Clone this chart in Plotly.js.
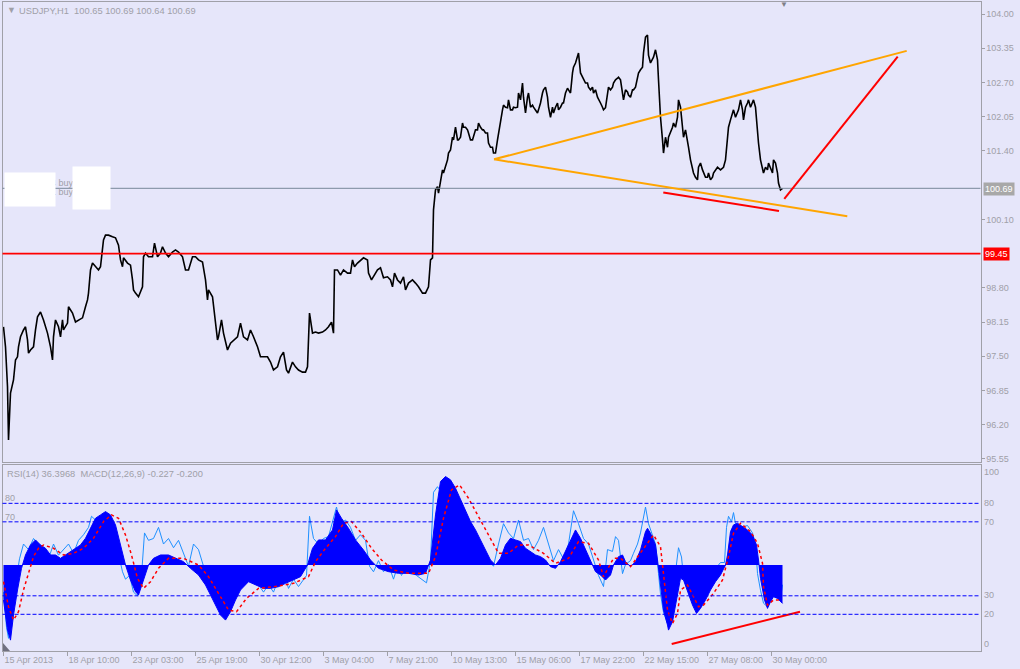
<!DOCTYPE html>
<html><head><meta charset="utf-8">
<script src="https://cdn.plot.ly/plotly-3.0.1.min.js"></script>
<style>html,body{margin:0;padding:0;background:#E6E6FA;}#chart{width:1020px;height:669px;}</style>
</head><body><div id="chart"></div>
<script>
// ---- price (close) series, bar index from first visible bar ----
const priceBars = [0,2,4,5,7,9,10,12,14,15,17,20,22,24,25,27,30,32,34,37,40,44,47,49,50,52,55,57,59,60,64,65,69,72,75,79,82,84,85,87,89,92,95,97,99,100,102,105,109,112,115,117,119,120,124,127,129,130,132,135,139,140,142,145,149,151,154,157,159,162,165,169,172,175,179,182,185,189,192,195,199,202,204,205,209,212,214,215,218,220,224,227,230,234,237,240,244,247,250,254,257,260,264,267,270,274,277,280,283,285,289,292,295,299,302,304,306,309,312,315,319,322,325,328,330,331,334,337,340,344,347,349,351,354,357,360,364,365,368,370,374,377,380,384,387,389,391,394,397,400,402,405,409,412,415,419,422,425,427,429,430,432,434,435,437,439,440,442,444,445,447,449,450,452,454,455,457,459,460,462,464,465,467,469,470,472,474,475,477,479,480,482,484,485,487,489,490,492,494,495,497,499,500,502,504,505,507,509,510,512,514,515,517,519,520,522,524,525,527,529,530,532,534,535,537,539,540,542,544,545,547,549,550,552,554,555,557,559,560,562,564,565,567,569,570,572,574,575,577,579,580,582,584,585,587,589,590,592,594,595,597,599,600,602,604,605,607,609,610,612,614,615,617,619,620,622,624,625,627,629,630,632,634,635,637,639,640,642,644,645,647,649,650,652,654,655,657,659,660,662,664,665,667,669,670,672,674,675,677,679,680,682,684,685,687,689,690,692,694,695,697,699,700,702,704,705,707,709,710,714,717,720,722,724,725,727,729,730,732,734,735,737,739,740,742,744,745,747,749,750,752,754,755,757,759,760,762,764,765,767,769,770,772,774,775,777,779];
const priceClose = [98.06,97.68,96.92,95.91,96.80,96.99,97.05,97.43,97.49,97.68,97.87,98.00,98.06,97.81,97.56,97.62,97.68,98.00,98.25,98.34,98.19,97.94,97.68,97.43,97.87,98.19,98.06,97.87,98.19,98.00,98.13,98.44,98.32,98.15,98.19,98.23,98.44,98.57,98.70,99.14,99.27,99.20,99.14,99.20,99.52,99.71,99.80,99.80,99.77,99.75,99.61,99.33,99.20,99.37,99.27,99.23,98.95,98.76,98.70,98.63,98.82,99.39,99.46,99.39,99.39,99.65,99.39,99.46,99.58,99.46,99.39,99.48,99.52,99.48,99.39,99.14,99.14,99.39,99.39,99.33,99.29,98.95,98.57,98.76,98.63,98.19,97.81,97.87,98.19,97.94,97.62,97.75,97.81,97.87,98.13,97.87,97.81,98.00,97.87,97.68,97.49,97.49,97.49,97.39,97.24,97.30,97.49,97.58,97.24,97.18,97.39,97.30,97.24,97.20,97.20,97.30,98.32,97.94,97.96,97.94,97.96,98.00,98.06,98.15,97.94,99.14,99.14,99.04,99.14,99.08,99.08,99.33,99.20,99.27,99.33,99.37,99.33,99.08,98.95,99.01,99.14,99.18,98.99,99.01,98.95,98.82,99.08,98.95,98.89,99.01,98.76,98.89,98.95,98.89,98.82,98.70,98.70,98.82,99.33,99.37,100.28,100.66,100.72,100.60,100.85,101.04,100.98,101.09,101.23,101.36,101.42,101.66,101.61,101.85,101.61,101.61,101.66,101.93,101.85,101.85,101.80,101.74,101.61,101.61,101.66,101.80,101.80,101.93,101.85,101.80,101.80,101.74,101.74,101.55,101.47,101.47,101.36,101.36,101.61,101.74,101.93,102.18,102.27,102.23,102.22,102.37,102.18,102.18,102.23,102.22,102.23,102.50,102.37,102.69,102.42,102.12,102.42,102.50,102.23,102.27,102.23,102.18,102.12,102.18,102.31,102.50,102.56,102.61,102.42,102.23,102.04,102.23,102.12,102.23,102.31,102.18,102.23,102.31,102.31,102.50,102.59,102.56,102.50,102.88,102.99,103.07,103.18,103.26,102.88,102.80,102.75,102.69,102.69,102.61,102.56,102.61,102.50,102.56,102.42,102.37,102.31,102.23,102.18,102.22,102.50,102.61,102.56,102.61,102.69,102.75,102.78,102.80,102.75,102.42,102.37,102.56,102.52,102.46,102.42,102.56,102.56,102.61,102.80,102.88,102.94,102.99,103.26,103.56,103.60,103.22,103.07,103.13,103.18,103.32,103.13,102.75,102.04,101.61,101.36,101.66,101.47,101.66,101.74,101.85,101.93,101.85,102.04,102.37,102.23,101.74,101.66,101.80,101.61,101.47,101.23,101.09,100.98,100.90,100.85,101.09,101.17,101.04,100.98,100.90,100.90,100.98,100.85,100.90,100.98,101.09,101.04,101.09,101.23,101.74,101.85,101.99,102.12,102.18,102.04,102.12,102.18,102.37,102.18,101.99,102.23,102.31,102.37,102.23,102.31,102.37,102.23,101.74,101.55,101.23,101.09,100.98,101.09,101.04,101.17,101.09,100.98,101.23,101.17,100.98,100.79,100.66,100.69];

// ---- MACD(12,26,9) histogram ----
const macdBars = [0,4,7,10,14,18,22,27,32,37,42,47,52,57,62,67,72,77,82,87,92,97,102,107,112,117,122,127,132,135,140,145,150,157,165,172,180,187,195,202,207,212,217,222,227,232,237,245,252,260,267,275,282,290,297,304,309,315,322,329,333,338,345,352,360,367,375,385,395,405,415,422,427,432,437,442,447,452,457,462,467,472,477,482,487,492,497,502,507,512,517,522,527,532,537,542,547,552,557,562,567,572,577,582,587,592,597,602,607,610,615,619,622,627,632,637,642,644,647,652,654,657,660,664,665,669,673,677,680,684,689,693,697,702,707,712,717,722,724,727,730,734,739,744,749,753,755,757,761,764,767,770,774,777,779];
const macdHist = [-0.21,-0.39,-0.45,-0.30,-0.15,-0.02,0.06,0.12,0.15,0.12,0.10,0.06,0.06,0.04,0.06,0.08,0.10,0.12,0.16,0.22,0.28,0.30,0.32,0.30,0.24,0.12,0.00,-0.09,-0.16,-0.18,-0.09,0.00,0.04,0.06,0.06,0.04,0.02,-0.02,-0.06,-0.12,-0.18,-0.24,-0.30,-0.33,-0.28,-0.21,-0.15,-0.10,-0.12,-0.14,-0.14,-0.13,-0.11,-0.09,-0.07,0.00,0.10,0.15,0.15,0.21,0.33,0.28,0.22,0.15,0.09,0.03,-0.02,-0.04,-0.05,-0.05,-0.06,-0.05,0.03,0.30,0.50,0.53,0.51,0.46,0.39,0.32,0.26,0.21,0.15,0.09,0.03,0.00,0.04,0.12,0.16,0.15,0.14,0.10,0.08,0.06,0.05,0.03,-0.01,-0.02,0.02,0.08,0.15,0.21,0.16,0.09,0.02,-0.04,-0.06,-0.09,-0.06,0.00,0.05,0.06,0.02,-0.01,0.02,0.09,0.20,0.22,0.19,0.12,0.03,-0.12,-0.27,-0.36,-0.39,-0.34,-0.21,-0.08,-0.09,-0.16,-0.24,-0.29,-0.26,-0.21,-0.15,-0.10,-0.06,0.00,0.06,0.20,0.24,0.25,0.23,0.21,0.18,0.12,0.03,-0.08,-0.21,-0.26,-0.22,-0.19,-0.20,-0.22,-0.23];
// ---- MACD signal line ----
const signalBars = [0,5,10,15,20,25,30,35,40,50,60,70,80,90,100,108,115,122,128,134,140,147,155,165,180,195,205,215,225,233,243,255,270,290,305,312,322,332,340,348,358,368,378,390,405,425,432,440,448,456,465,475,485,495,505,515,525,540,552,565,575,585,595,600,610,617,627,640,650,657,660,664,669,674,677,684,690,695,700,710,719,725,730,737,747,754,759,760,764,770,777];
const signalVals = [-0.10,-0.25,-0.33,-0.28,-0.15,-0.05,0.05,0.10,0.12,0.10,0.06,0.07,0.10,0.16,0.26,0.30,0.28,0.18,0.06,-0.08,-0.14,-0.10,-0.02,0.04,0.04,0.00,-0.07,-0.17,-0.27,-0.28,-0.20,-0.14,-0.13,-0.11,-0.07,0.02,0.10,0.17,0.25,0.26,0.19,0.10,0.03,-0.03,-0.05,-0.05,0.05,0.28,0.45,0.48,0.40,0.29,0.18,0.07,0.07,0.12,0.12,0.07,0.01,0.04,0.14,0.13,0.03,-0.07,0.04,0.04,-0.01,0.10,0.18,0.11,-0.07,-0.27,-0.35,-0.29,-0.15,-0.12,-0.19,-0.25,-0.24,-0.17,-0.09,0.05,0.19,0.25,0.20,0.13,0.01,-0.13,-0.24,-0.21,-0.21];
// ---- RSI(14) ----
const rsiBars = [0,3,5,8,12,16,20,25,30,35,40,45,50,55,60,65,70,75,80,85,88,92,96,100,104,108,112,116,119,122,126,130,134,138,141,145,150,155,160,165,170,175,180,185,190,195,200,205,210,215,219,223,228,232,236,240,245,250,255,260,265,270,275,280,285,290,295,300,303,306,310,315,320,325,330,333,337,342,347,352,357,362,366,370,375,380,385,390,394,398,403,408,413,418,423,427,430,434,438,442,446,450,455,460,465,470,475,480,485,490,495,500,505,510,515,520,525,530,535,540,545,550,555,560,565,570,575,580,585,590,595,600,604,609,612,615,619,622,627,630,634,637,640,642,645,649,652,655,657,660,664,667,670,673,675,678,680,687,694,700,707,714,717,721,723,725,728,730,732,737,744,749,752,754,755,757,760,764,769,772,777,779];
const rsiVals = [32,13,7,22,36,50,58,55,61,58,55,50,58,52,55,58,53,60,63,67,73,71,67,73,69,63,60,50,43,39,41,32,30,41,64,60,61,67,58,61,56,60,53,46,58,55,46,34,36,30,22,21,36,34,43,39,41,39,36,32,36,32,39,43,34,39,35,39,41,73,61,58,61,62,73,78,69,71,67,60,63,60,46,43,49,43,47,39,46,41,46,43,41,39,37,49,86,89,86,90,87,78,71,73,67,61,60,55,49,46,58,69,64,61,71,60,61,55,60,67,58,49,55,50,58,76,69,61,58,49,41,35,55,54,62,60,42,47,49,53,58,64,73,78,69,62,58,42,31,21,15,21,33,48,56,51,40,33,28,31,35,46,48,48,67,73,70,75,69,67,68,64,58,42,38,33,26,24,29,31,28,36];

// ---- axis ticks ----
const timeTickBars = [0,64,128,192,256,320,384,448,512,576,640,704,768];
const timeTickLabels = ['15 Apr 2013','18 Apr 10:00','23 Apr 03:00','25 Apr 19:00','30 Apr 12:00','3 May 04:00','7 May 21:00','10 May 13:00','15 May 06:00','17 May 22:00','22 May 15:00','27 May 08:00','30 May 00:00'];
// (100.75 and 99.45 ticks are hidden behind the price boxes in the reference)
const priceTicks = [95.55,96.20,96.85,97.50,98.15,98.80,100.10,101.40,102.05,102.70,103.35,104.00];
const rsiLevels = [80,70,30,20];
const rsiLabelVals = [100,80,70,30,20,0];

// ---- levels & drawn trendlines ----
const redLevel = 99.45;
const lastPrice = 100.69;
const orangeUpperBars = [490.5, 903.2], orangeUpperPrices = [101.24, 103.30];
const orangeLowerBars = [490.5, 843.8], orangeLowerPrices = [101.24, 100.16];
const redLowBars = [659.8, 775.5], redLowPrices = [100.61, 100.26];
const redUpBars = [780.8, 894.2], redUpPrices = [100.49, 103.19];
const rsiRedBars = [668.2, 796.5], rsiRedVals = [3.9, 21.4];

const W = 1020, H = 669;
const px = v => v / W, py = v => (H - v) / H;
const GREY = '#a0a0a8', FONT = 'Liberation Sans, Arial, sans-serif';

const traces = [
  {x: priceBars, y: priceClose, xaxis: 'x', yaxis: 'y', type: 'scatter', mode: 'lines', line: {color: '#000000', width: 1.6}, hoverinfo: 'skip'},
  {x: rsiBars, y: rsiVals, xaxis: 'x2', yaxis: 'y2', type: 'scatter', mode: 'lines', line: {color: '#1E90FF', width: 1}, hoverinfo: 'skip'},
  {x: macdBars, y: macdHist, xaxis: 'x2', yaxis: 'y3', type: 'scatter', mode: 'lines', fill: 'tozeroy', fillcolor: '#0000FF', line: {color: '#0000FF', width: 1}, hoverinfo: 'skip'},
  {x: signalBars, y: signalVals, xaxis: 'x2', yaxis: 'y3', type: 'scatter', mode: 'lines', line: {color: '#FF0000', width: 1.5, dash: 'dot'}, hoverinfo: 'skip'}
];

const shapes = [
  {type: 'line', xref: 'x domain', x0: 0, x1: 1, yref: 'y', y0: redLevel, y1: redLevel, line: {color: '#FF0000', width: 1.6}, layer: 'above'},
  {type: 'line', xref: 'x domain', x0: 0, x1: 1, yref: 'y', y0: lastPrice, y1: lastPrice, line: {color: '#778899', width: 1}},
  {type: 'line', xref: 'x', yref: 'y', x0: orangeUpperBars[0], x1: orangeUpperBars[1], y0: orangeUpperPrices[0], y1: orangeUpperPrices[1], line: {color: '#FFA500', width: 2}},
  {type: 'line', xref: 'x', yref: 'y', x0: orangeLowerBars[0], x1: orangeLowerBars[1], y0: orangeLowerPrices[0], y1: orangeLowerPrices[1], line: {color: '#FFA500', width: 2}},
  {type: 'line', xref: 'x', yref: 'y', x0: redLowBars[0], x1: redLowBars[1], y0: redLowPrices[0], y1: redLowPrices[1], line: {color: '#FF0000', width: 2}},
  {type: 'line', xref: 'x', yref: 'y', x0: redUpBars[0], x1: redUpBars[1], y0: redUpPrices[0], y1: redUpPrices[1], line: {color: '#FF0000', width: 2}},
  {type: 'line', xref: 'x2', yref: 'y2', x0: rsiRedBars[0], x1: rsiRedBars[1], y0: rsiRedVals[0], y1: rsiRedVals[1], line: {color: '#FF0000', width: 2}},
  {type: 'path', xref: 'paper', yref: 'paper', path: `M ${px(3)},${py(643)} L ${px(3)},${py(651)} L ${px(10)},${py(651)} Z`, fillcolor: '#707080', line: {width: 0}}
];
rsiLevels.forEach(v => shapes.push({type: 'line', xref: 'x2 domain', x0: 0, x1: 1, yref: 'y2', y0: v, y1: v, line: {color: '#0000FF', width: 1, dash: '4px,2px'}, layer: 'above'}));

const ann = [];
const txt = (x, y, t, opts = {}) => ann.push(Object.assign({xref: 'paper', yref: 'paper', x: px(x), y: py(y), text: t, showarrow: false, xanchor: 'left', yanchor: 'middle', font: {family: FONT, size: 9, color: GREY}}, opts));
txt(5, 10, '▼', {font: {family: FONT, size: 9, color: GREY}});
txt(17, 11, 'USDJPY,H1\u00a0\u00a0100.65 100.69 100.64 100.69', {font: {family: FONT, size: 9.3, color: GREY}});
txt(5, 474, 'RSI(14) 36.3968\u00a0\u00a0MACD(12,26,9) -0.227 -0.200', {font: {family: FONT, size: 9.3, color: GREY}});
txt(778, 5, '▼', {font: {family: FONT, size: 8, color: '#808088'}});
txt(3, 498, '80');
txt(3, 517, '70');
// right-side labels of the indicator window
const rsiLabelY = {100: 472, 80: 503, 70: 522, 30: 595, 20: 614, 0: 644};
rsiLabelVals.forEach(v => txt(982, rsiLabelY[v], String(v)));
// price boxes
txt(983, 188.5, lastPrice.toFixed(2), {bgcolor: '#a8a8a8', font: {family: FONT, size: 9, color: '#ffffff'}, borderpad: 1});
txt(983, 254, redLevel.toFixed(2), {bgcolor: '#ff0000', font: {family: FONT, size: 9, color: '#ffffff'}, borderpad: 1});
// object labels partly hidden by white boxes
txt(49, 183, '4 buy');
txt(49, 192, '1 buy');
ann.push({xref: 'paper', yref: 'paper', x: px(3.5), y: py(172), xanchor: 'left', yanchor: 'top', text: '\u00a0', showarrow: false, width: 50, height: 33, bgcolor: '#ffffff', borderpad: 0});
ann.push({xref: 'paper', yref: 'paper', x: px(72), y: py(166), xanchor: 'left', yanchor: 'top', text: '\u00a0', showarrow: false, width: 37, height: 42, bgcolor: '#ffffff', borderpad: 0});

const layout = {
  width: W, height: H, margin: {l: 0, r: 0, t: 0, b: 0},
  paper_bgcolor: '#E6E6FA', plot_bgcolor: '#E6E6FA', showlegend: false,
  font: {family: FONT, size: 9, color: GREY},
  xaxis: {domain: [px(2.5), px(980.5)], range: [-1, 977], anchor: 'y', showline: true, mirror: true, linecolor: GREY, linewidth: 1, showgrid: false, zeroline: false, showticklabels: false, ticks: ''},
  yaxis: {domain: [py(461.5), py(2)], range: [95.502, 104.228], anchor: 'x', side: 'right', showline: true, mirror: true, linecolor: GREY, linewidth: 1, showgrid: false, zeroline: false,
          tickvals: priceTicks, ticktext: priceTicks.map(v => v.toFixed(2)), ticks: 'outside', ticklen: 3, tickcolor: GREY, tickfont: {family: FONT, size: 9, color: GREY}},
  xaxis2: {domain: [px(2.5), px(980.5)], range: [-1, 977], anchor: 'y2', showline: true, mirror: true, linecolor: GREY, linewidth: 1, showgrid: false, zeroline: false,
           tickvals: timeTickBars, ticktext: timeTickLabels, ticks: 'outside', ticklen: 4, tickcolor: GREY, ticklabelposition: 'outside right', tickfont: {family: FONT, size: 9, color: GREY}},
  yaxis2: {domain: [py(651.3), py(464.5)], range: [0, 101], anchor: 'x2', side: 'right', showline: true, mirror: true, linecolor: GREY, linewidth: 1, showgrid: false, zeroline: false, showticklabels: false, ticks: ''},
  yaxis3: {overlaying: 'y2', anchor: 'x2', range: [-0.517, 0.602], visible: false, showgrid: false, zeroline: false},
  shapes: shapes, annotations: ann
};
Plotly.newPlot('chart', traces, layout, {staticPlot: true, displayModeBar: false});
</script></body></html>
